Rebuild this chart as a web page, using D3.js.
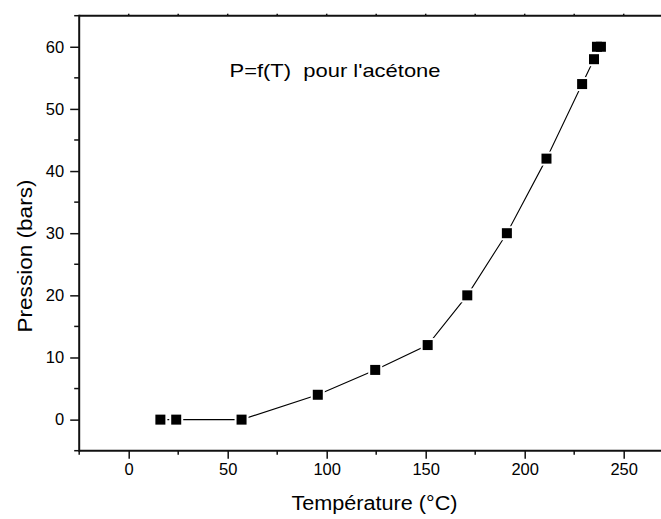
<!DOCTYPE html>
<html>
<head>
<meta charset="utf-8">
<script src="https://cdn.jsdelivr.net/npm/d3@7"></script>
<style>
  html, body { margin: 0; padding: 0; background: #fff; }
  svg { display: block; }
  text { font-family: "Liberation Sans", Arial, sans-serif; fill: #000; }
</style>
</head>
<body>
<svg id="chart" width="661" height="519"></svg>
<script>
// Data (temperature in °C, pressure in bars)
const temperature = [16, 24, 57, 95.5, 124.5, 151, 171, 191, 211, 229, 235, 236.5, 238.5];
const pressure    = [0, 0, 0, 4, 8, 12, 20, 30, 42, 54, 58, 60, 60];
const xTicks = [0, 50, 100, 150, 200, 250];
const yTicks = [0, 10, 20, 30, 40, 50, 60];
const titleText = "P=f(T)  pour l'acétone";
const xLabel = "Température (°C)";
const yLabel = "Pression (bars)";

const svg = d3.select("#chart");
const x = d3.scaleLinear().domain([-25, 275]).range([79.2, 673.2]);
const y = d3.scaleLinear().domain([-5, 65]).range([450.7, 15.7]);

const axisColor = "#111";

// Bottom axis
const xAxis = d3.axisBottom(x).tickValues(xTicks).tickSize(8).tickSizeOuter(0).tickPadding(5)
  .tickFormat(d3.format("d"));
const gx = svg.append("g").attr("transform", `translate(0,${y(-5)})`).call(xAxis);
gx.select(".domain").remove();
gx.selectAll(".tick line").attr("stroke", axisColor).attr("stroke-width", 1.5);
gx.selectAll(".tick text").style("font-size", "16.5px").attr("dy", "0.71em");
// minor x ticks
const xMinor = d3.range(-25, 276, 50);
svg.append("g").selectAll("line").data(xMinor).join("line")
  .attr("x1", d => x(d)).attr("x2", d => x(d))
  .attr("y1", y(-5)).attr("y2", y(-5) + 4)
  .attr("stroke", axisColor).attr("stroke-width", 1.5);

// Left axis
const yAxis = d3.axisLeft(y).tickValues(yTicks).tickSize(9).tickSizeOuter(0).tickPadding(6)
  .tickFormat(d3.format("d"));
const gy = svg.append("g").attr("transform", `translate(${x(-25)},0)`).call(yAxis);
gy.select(".domain").remove();
gy.selectAll(".tick line").attr("stroke", axisColor).attr("stroke-width", 1.5);
gy.selectAll(".tick text").style("font-size", "16.5px");
const yMinor = d3.range(-5, 66, 10);
svg.append("g").selectAll("line").data(yMinor).join("line")
  .attr("x1", x(-25) - 5).attr("x2", x(-25))
  .attr("y1", d => y(d)).attr("y2", d => y(d))
  .attr("stroke", axisColor).attr("stroke-width", 1.5);

// Top axis small ticks
const topTicks = d3.range(0, 276, 25);
svg.append("g").selectAll("line").data(topTicks).join("line")
  .attr("x1", d => x(d)).attr("x2", d => x(d))
  .attr("y1", y(65)).attr("y2", y(65) - 2)
  .attr("stroke", axisColor).attr("stroke-width", 1.5);

// Frame lines
svg.append("line").attr("x1", x(-25)).attr("x2", x(275)).attr("y1", y(-5)).attr("y2", y(-5))
  .attr("stroke", axisColor).attr("stroke-width", 2);
svg.append("line").attr("x1", x(-25)).attr("x2", x(275)).attr("y1", y(65)).attr("y2", y(65))
  .attr("stroke", axisColor).attr("stroke-width", 2);
svg.append("line").attr("x1", x(-25)).attr("x2", x(-25)).attr("y1", y(65) - 1).attr("y2", y(-5) + 1)
  .attr("stroke", axisColor).attr("stroke-width", 2);

// Data line
const pts = temperature.map((t, i) => [t, pressure[i]]);
svg.append("path").datum(pts)
  .attr("fill", "none").attr("stroke", "#000").attr("stroke-width", 1.1)
  .attr("d", d3.line().x(d => x(d[0])).y(d => y(d[1])));

// Symbol halos then squares
const sq = 10, halo = 14;
svg.append("g").selectAll("rect").data(pts).join("rect")
  .attr("x", d => x(d[0]) - halo / 2).attr("y", d => y(d[1]) - halo / 2)
  .attr("width", halo).attr("height", halo).attr("fill", "#fff");
svg.append("g").selectAll("rect").data(pts).join("rect")
  .attr("x", d => x(d[0]) - sq / 2).attr("y", d => y(d[1]) - sq / 2)
  .attr("width", sq).attr("height", sq).attr("fill", "#000");

// Title
svg.append("text").attr("x", 229.5).attr("y", 77)
  .style("font-size", "18.5px").style("white-space", "pre")
  .attr("textLength", 211).attr("lengthAdjust", "spacingAndGlyphs")
  .text(titleText);

// Axis labels
svg.append("text").attr("x", 374.5).attr("y", 510).attr("text-anchor", "middle")
  .style("font-size", "19.5px")
  .attr("textLength", 166).attr("lengthAdjust", "spacingAndGlyphs")
  .text(xLabel);
svg.append("text").attr("transform", "translate(32,256) rotate(-90)").attr("text-anchor", "middle")
  .style("font-size", "19.5px")
  .attr("textLength", 153).attr("lengthAdjust", "spacingAndGlyphs")
  .text(yLabel);
</script>
</body>
</html>
